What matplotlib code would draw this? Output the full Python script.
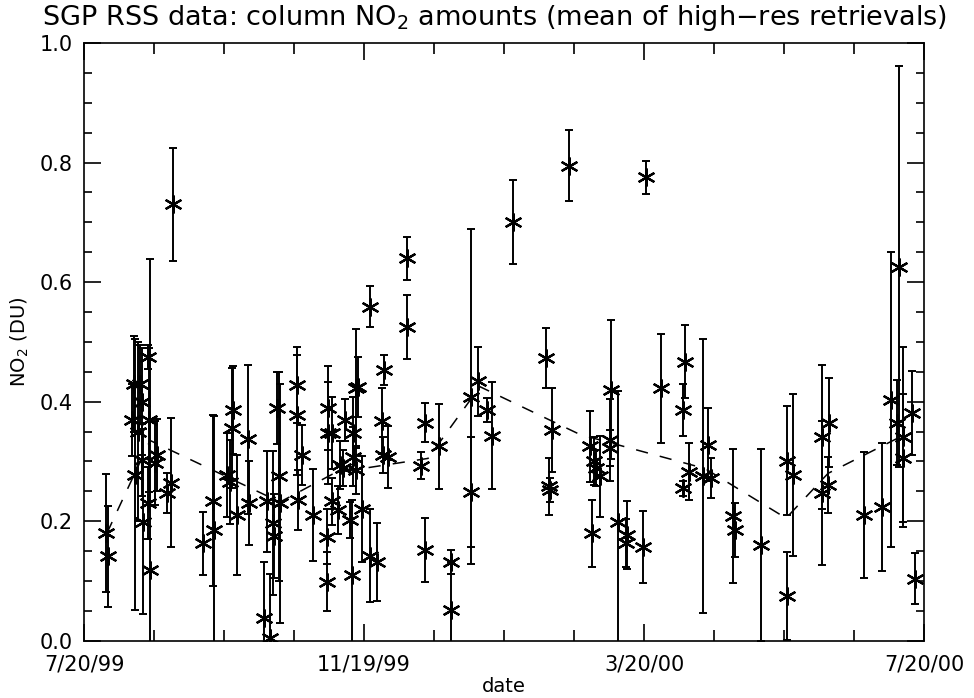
import numpy as np
import matplotlib
matplotlib.use('Agg')
import matplotlib.pyplot as plt
from matplotlib.ticker import MultipleLocator

# days since 7/20/99, column NO2 (DU) and its error (std of retrievals)
day = [9.5, 10.5, 20.8, 21.8, 22.4, 23.7, 24.2, 25.1, 25.3, 25.8,
       27.9, 28.5, 28.0, 28.8, 30.9, 31.7, 36.0, 37.9, 38.8, 51.7,
       56.1, 56.6, 62.5, 63.6, 64.8, 64.6, 66.5, 71.6, 71.8, 78.6,
       79.6, 81.0, 82.5, 82.8, 84.0, 85.1, 85.4, 92.7, 92.9, 93.4,
       94.9, 99.6, 105.8, 105.9, 106.4, 106.5, 107.9, 108.0, 110.8, 111.5,
       113.0, 113.7, 115.9, 116.6, 117.3, 117.4, 118.7, 119.5, 118.5, 121.0,
       124.4, 124.6, 127.7, 130.7, 129.7, 130.1, 132.6, 140.6, 140.6, 146.7,
       148.5, 148.5, 154.8, 159.7, 159.7, 168.5, 168.5, 171.8, 175.7, 177.6,
       186.9, 201.5, 203.8, 202.6, 203.1, 220.5, 222.2, 223.0, 224.8, 221.5,
       211.3, 229.5, 229.2, 229.2, 232.7, 236.4, 236.1, 243.6, 244.9, 251.6,
       261.9, 260.8, 260.8, 263.7, 269.8, 271.8, 273.0, 282.9, 283.7, 294.8,
       306.1, 306.3, 309.1, 321.6, 321.6, 324.0, 324.6, 339.9, 347.8, 351.8,
       354.2, 355.3, 357.0, 357.0, 360.9, 362.0]
no2 = [0.180, 0.141, 0.369, 0.430, 0.278, 0.350, 0.430, 0.400, 0.302, 0.199,
       0.475, 0.369, 0.230, 0.118, 0.297, 0.311, 0.247, 0.264, 0.730, 0.163,
       0.234, 0.186, 0.277, 0.265, 0.386, 0.356, 0.210, 0.337, 0.230, 0.038,
       0.233, 0.005, 0.197, 0.175, 0.389, 0.275, 0.230, 0.428, 0.378, 0.235,
       0.311, 0.210, 0.174, 0.099, 0.389, 0.347, 0.347, 0.233, 0.219, 0.294,
       0.289, 0.369, 0.202, 0.110, 0.308, 0.347, 0.422, 0.425, 0.286, 0.220,
       0.142, 0.559, 0.132, 0.453, 0.367, 0.311, 0.308, 0.640, 0.525, 0.293,
       0.365, 0.152, 0.325, 0.132, 0.051, 0.408, 0.249, 0.434, 0.386, 0.343,
       0.700, 0.473, 0.353, 0.258, 0.252, 0.325, 0.300, 0.289, 0.275, 0.180,
       0.795, 0.420, 0.336, 0.322, 0.198, 0.177, 0.163, 0.157, 0.775, 0.422,
       0.467, 0.386, 0.255, 0.283, 0.275, 0.328, 0.272, 0.209, 0.185, 0.160,
       0.075, 0.301, 0.277, 0.341, 0.247, 0.261, 0.365, 0.210, 0.224, 0.403,
       0.365, 0.626, 0.341, 0.305, 0.381, 0.104]
err = [0.099, 0.084, 0.060, 0.080, 0.226, 0.150, 0.065, 0.090, 0.060, 0.155,
       0.020, 0.120, 0.060, 0.520, 0.070, 0.060, 0.033, 0.108, 0.095, 0.053,
       0.143, 0.190, 0.070, 0.070, 0.073, 0.100, 0.100, 0.125, 0.070, 0.094,
       0.085, 0.107, 0.120, 0.070, 0.060, 0.175, 0.200, 0.063, 0.100, 0.050,
       0.050, 0.077, 0.046, 0.050, 0.070, 0.085, 0.060, 0.040, 0.040, 0.040,
       0.030, 0.035, 0.030, 0.125, 0.050, 0.060, 0.100, 0.050, 0.040, 0.089,
       0.078, 0.034, 0.065, 0.025, 0.055, 0.030, 0.052, 0.036, 0.054, 0.023,
       0.033, 0.053, 0.071, 0.020, 0.080, 0.280, 0.092, 0.058, 0.020, 0.090,
       0.070, 0.050, 0.070, 0.048, 0.020, 0.059, 0.040, 0.030, 0.068, 0.056,
       0.060, 0.116, 0.068, 0.030, 0.220, 0.057, 0.040, 0.060, 0.027, 0.091,
       0.061, 0.043, 0.013, 0.048, 0.229, 0.061, 0.033, 0.112, 0.045, 0.160,
       0.074, 0.091, 0.136, 0.120, 0.120, 0.047, 0.074, 0.105, 0.107, 0.247,
       0.071, 0.335, 0.150, 0.107, 0.070, 0.042]

# dashed trend line
trend_day = [10.0, 28.8, 85.4, 109.4, 149.9, 172.5, 216.1, 270.6, 305.9, 324.2, 357.7]
trend_no2 = [0.180, 0.335, 0.232, 0.281, 0.305, 0.425, 0.345, 0.288, 0.205, 0.280, 0.345]

tick_days = [0, 122, 244, 366]
tick_labels = ['7/20/99', '11/19/99', '3/20/00', '7/20/00']

plt.rcParams['font.family'] = 'DejaVu Sans'
fig = plt.figure(figsize=(9.74, 6.98), dpi=100)
ax = fig.add_axes([84/974, 1 - 640.7/698, 840/974, 597.7/698])

ax.errorbar(day, no2, yerr=err, fmt='none', ecolor='black', elinewidth=1.4,
            capsize=3, capthick=1.4)
ax.plot(day, no2, linestyle='none', marker=(6, 2, 0), markersize=13,
        markeredgewidth=1.6, color='black')
line, = ax.plot(trend_day, trend_no2, color='black', linewidth=1.1)
line.set_dashes([8, 8])

ax.set_xlim(0, 366)
ax.set_ylim(0, 1.0)
ax.set_xticks(tick_days)
ax.set_xticklabels(tick_labels)
ax.xaxis.set_minor_locator(MultipleLocator(30.5))
ax.yaxis.set_major_locator(MultipleLocator(0.2))
ax.yaxis.set_minor_locator(MultipleLocator(0.05))
ax.yaxis.set_major_formatter(plt.FormatStrFormatter('%.1f'))

ax.tick_params(which='both', direction='in', top=True, right=True,
               labelsize=15, width=1.2, color='black')
ax.tick_params(axis='x', which='major', length=12, pad=10)
ax.tick_params(axis='x', which='minor', length=8)
ax.tick_params(axis='y', which='major', length=12, pad=8)
ax.tick_params(axis='y', which='minor', length=6)
for s in ax.spines.values():
    s.set_linewidth(1.2)

fig.text(504/974, 1 - 686/698, 'date', ha='center', va='center', fontsize=14)
ax.set_ylabel('NO$_2$ (DU)', fontsize=14, labelpad=6)
fig.text(494/974, 1 - 18/698, 'SGP RSS data: column NO$_2$ amounts (mean of high\u2212res retrievals)',
         ha='center', va='center', fontsize=19.5)

fig.savefig('out.png', dpi=100)
